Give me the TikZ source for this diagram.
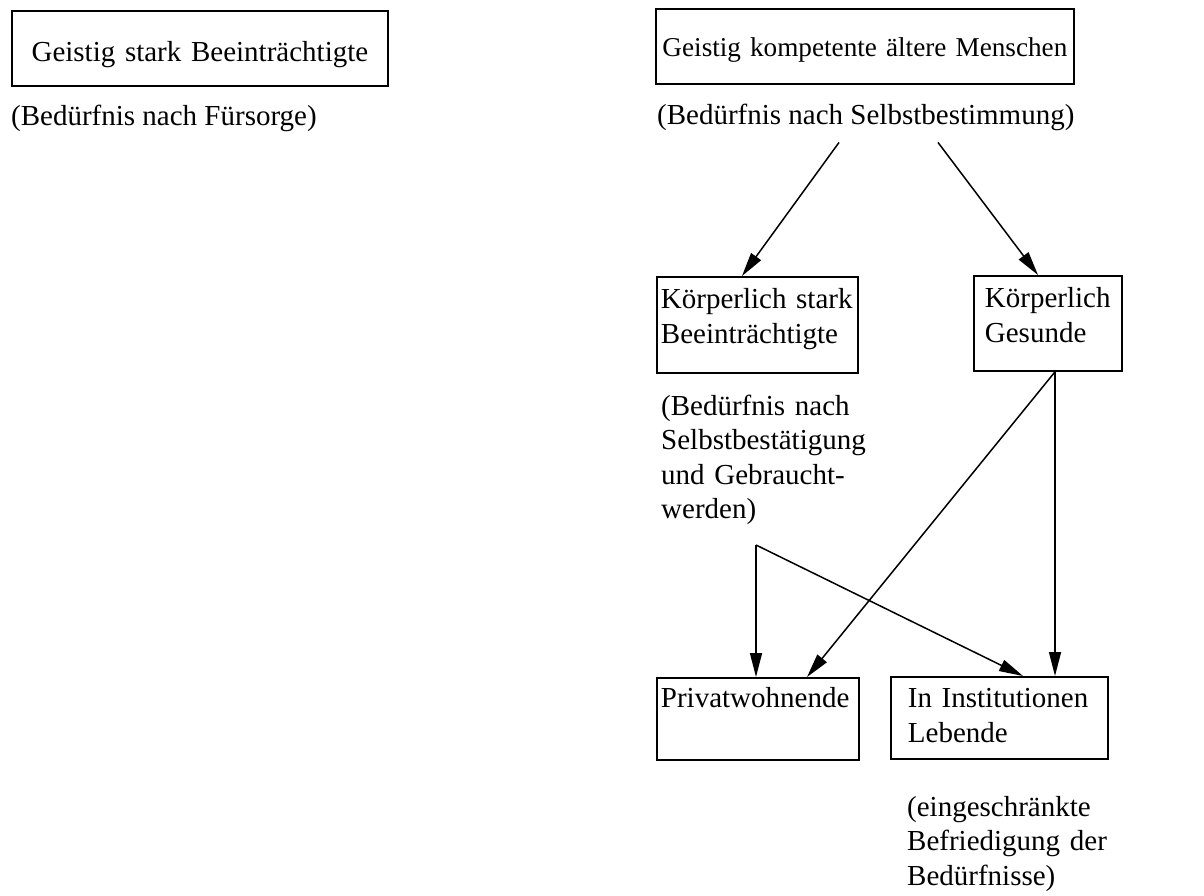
\documentclass[tikz,border=0pt]{standalone}
\usepackage{fontspec}
\setmainfont{Liberation Serif}
\usetikzlibrary{arrows.meta,calc}

\begin{document}
\begin{tikzpicture}[x=1pt, y=-1pt,
    every node/.style={font=\fontsize{29}{34.5}\selectfont},
    box/.style={draw, line width=1.8pt, rectangle, anchor=north west, align=left, inner ysep=0pt},
    note/.style={anchor=base west, inner sep=0pt, align=left},
    >={Triangle[length=24pt, width=12pt]}]

   \useasboundingbox (0,0) rectangle (1204,896);

   % Define the boxes (placed at their top left corner)
   \node[box, inner xsep=0pt, text width=376pt, align=center, text height=51pt, text depth=24pt] (geistig_stark) at (11,10) {Geistig stark Beeinträchtigte};
   \node[box, inner xsep=0pt, text width=418pt, align=center, text height=48pt, text depth=27pt, font=\fontsize{27.2}{34.5}\selectfont] (geistig_komp) at (655,8) {Geistig kompetente ältere Menschen};
   \node[box, inner xsep=4pt, text width=193pt, text height=32pt, text depth=64pt] (koerper_stark) at (656,276) {Körperlich stark\\Beeinträchtigte};
   \node[box, inner xsep=11pt, text width=126pt, text height=32pt, text depth=63pt] (koerper_gesund) at (973,275) {Körperlich\\Gesunde};
   \node[box, inner xsep=4pt, text width=194pt, text height=30pt, text depth=52pt] (privat) at (656,677) {Privatwohnende};
   \node[box, inner xsep=17pt, text width=183pt, text height=31pt, text depth=51pt] (institution) at (890,676) {In Institutionen\\Lebende};

   % Define the needs (placed at their first baseline)
   \node[note] (need_fuersorge) at (11,126) {(Bedürfnis nach Fürsorge)};
   \node[note] (need_selbst) at (657,125) {(Bedürfnis nach Selbstbestimmung)};
   \node[note, text width=210pt] (need_bestaetigung) at (661,415) {(Bedürfnis nach\\Selbstbestätigung\\und Gebraucht-\\werden)};
   \node[note, text width=210pt] (need_eingeschr) at (907,816) {(eingeschränkte\\Befriedigung der\\Bedürfnisse)};

   \coordinate (branch) at ($(privat.north west)+(100,-132)$);

   % Define arrows
   \path[->, line width=1.5pt]
    ($(need_selbst.south west)+(182,11)$) edge ($(koerper_stark.north west)+(86,0)$)
    ($(need_selbst.south west)+(281,11)$) edge ($(koerper_gesund.north west)+(65,0)$)
    ($(koerper_gesund.south west)+(82,0)$) edge ($(privat.north west)+(151,0)$)
    ($(koerper_gesund.south west)+(82,0)$) edge ($(institution.north west)+(165,0)$)
    (branch) edge ($(privat.north west)+(100,0)$)
    (branch) edge ($(institution.north west)+(133,0)$);

\end{tikzpicture}
\end{document}
